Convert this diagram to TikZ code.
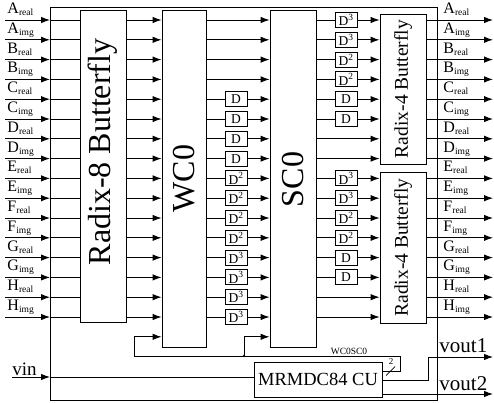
\documentclass[tikz,border=0pt]{standalone}
\usepackage{fontspec}
\setmainfont{Liberation Serif}
\usetikzlibrary{arrows.meta}
\begin{document}
\begin{tikzpicture}[x=1pt,y=-1pt,line width=0.9pt,
  blk/.style={draw,inner sep=0pt,minimum width=46pt},
  dbox/.style={draw,fill=white,inner sep=0pt,minimum width=22pt,minimum height=15pt,font=\fontsize{13.5}{14}\selectfont},
  lbl/.style={anchor=base west,inner sep=0pt,font=\fontsize{16}{16}\selectfont},
  big/.style={rotate=90,inner sep=0pt,font=\fontsize{32}{32}\selectfont},
  mid/.style={rotate=90,inner sep=0pt,font=\fontsize{19.5}{20}\selectfont},
  arr/.style={-{Latex[length=9pt,width=6.5pt]}}]
\useasboundingbox (0,0) rectangle (494,403);
% frame
\draw (50,7) rectangle (437,400);
% blocks
\node[blk,minimum height=312.7pt] (r8) at (103,166.35) {};
\node[big] (r8t) at (103,152) {Radix-8 Butterfly};
\node[blk,minimum width=44pt,minimum height=337pt] (wc) at (184,178.5) {};
\node[big] (wct) at (184,178.5) {WC0};
\node[blk,minimum height=337pt] (sc) at (293,178.5) {};
\node[big] (sct) at (293,179.5) {SC0};
\node[blk,minimum height=150pt] (r4a) at (403,89) {};
\node[mid] (r4at) at (403,89) {Radix-4 Butterfly};
\node[blk,minimum height=151pt] (r4b) at (403,247.5) {};
\node[mid] (r4bt) at (403,247.5) {Radix-4 Butterfly};
\node[draw,inner sep=0pt,minimum width=128pt,minimum height=34.5pt,font=\fontsize{18.5}{19}\selectfont] (cu) at (318,379.75) {MRMDC84 CU};
% rows
\foreach \L [count=\i from 0] in {A,B,C,D,E,F,G,H}{
  \foreach \s [count=\j from 0] in {real,img}{
    \pgfmathtruncatemacro\r{2*\i+\j}
    \pgfmathsetmacro\y{20+19.8*\r}
    \coordinate (row\r) at (0,\y);
    \coordinate (in\r) at (5,\y);
    \coordinate (fi\r) at (50,\y);
    \coordinate (out\r) at (493,\y);
    \node[lbl] (li\r) at (7,\y-6.5) {\L\raisebox{-2pt}{\fontsize{9.5}{9.5}\selectfont \s}};
    \node[lbl] (lo\r) at (443,\y-6.5) {\L\raisebox{-2pt}{\fontsize{9.5}{9.5}\selectfont \s}};
    \draw[arr] (in\r) -- (fi\r);
    \draw (fi\r) -- (r8.west |- row\r);
    \draw[arr] (r8.east |- row\r) -- (wc.west |- row\r);
  }
}
\coordinate (row16) at (0,336.8);
% WC0 -> SC0
\foreach \r in {0,...,3}{\draw[arr] (wc.east |- row\r) -- (sc.west |- row\r);}
\foreach \r/\t in {4/D,5/D,6/D,7/D,8/D\textsuperscript{2},9/D\textsuperscript{2},10/D\textsuperscript{2},11/D\textsuperscript{2},12/D\textsuperscript{3},13/D\textsuperscript{3},14/D\textsuperscript{3},15/D\textsuperscript{3}}{
  \node[dbox] (da\r) at (236,0 |- row\r) {\t};
  \draw (wc.east |- row\r) -- (da\r);
  \draw[arr] (da\r) -- (sc.west |- row\r);
}
% SC0 -> R4
\foreach \r/\t/\b in {0/D\textsuperscript{3}/r4a,1/D\textsuperscript{3}/r4a,2/D\textsuperscript{2}/r4a,3/D\textsuperscript{2}/r4a,4/D/r4a,5/D/r4a,8/D\textsuperscript{3}/r4b,9/D\textsuperscript{3}/r4b,10/D\textsuperscript{2}/r4b,11/D\textsuperscript{2}/r4b,12/D/r4b,13/D/r4b}{
  \node[dbox] (db\r) at (346,0 |- row\r) {\t};
  \draw (sc.east |- row\r) -- (db\r);
  \draw[arr] (db\r) -- (\b.west |- row\r);
}
\foreach \r/\b in {6/r4a,7/r4a,14/r4b,15/r4b}{\draw[arr] (sc.east |- row\r) -- (\b.west |- row\r);}
% outputs
\foreach \r in {0,...,7}{\draw[arr] (r4a.east |- row\r) -- (out\r);}
\foreach \r in {8,...,15}{\draw[arr] (r4b.east |- row\r) -- (out\r);}
% feedback bus
\coordinate (b0) at (382,371);
\coordinate (b1) at (400,371);
\coordinate (b2) at (400,356);
\coordinate (b3) at (134,356);
\coordinate (bj) at (244,356);
\draw[arr] (cu.east |- b0) -- (b1) -- (b2) -- (b3) -- (b3 |- row16) -- (wc.west |- row16);
\draw[arr] (bj) -- (bj |- row16) -- (sc.west |- row16);
\fill (bj) circle (1.4);
\draw[line width=0.7pt] (386,375.5) -- (395,366.5);
\node[inner sep=0pt,font=\fontsize{9}{9}\selectfont] (two) at (391,362) {2};
\node[anchor=base,inner sep=0pt,font=\fontsize{9.5}{9.5}\selectfont] (bus) at (349,354) {WC0SC0};
% vin
\coordinate (vs) at (12,377);
\coordinate (vf) at (50,377);
\node[anchor=base west,inner sep=0pt,font=\fontsize{19}{19}\selectfont] (vin) at (12,375) {vin};
\draw[arr] (vs) -- (vf);
\draw (vf) -- (cu.west |- vf);
% vout
\coordinate (o1a) at (382,380);
\coordinate (o1b) at (428,380);
\coordinate (o1c) at (428,357);
\coordinate (o1) at (493,357);
\draw[arr] (cu.east |- o1a) -- (o1b) -- (o1c) -- (o1);
\coordinate (o2a) at (382,394);
\coordinate (o2) at (493,394);
\draw[arr] (cu.east |- o2a) -- (o2);
\node[anchor=base west,inner sep=0pt,font=\fontsize{21}{21}\selectfont] (vo1) at (439,352) {vout1};
\node[anchor=base west,inner sep=0pt,font=\fontsize{21}{21}\selectfont] (vo2) at (439,390) {vout2};
\end{tikzpicture}
\end{document}
